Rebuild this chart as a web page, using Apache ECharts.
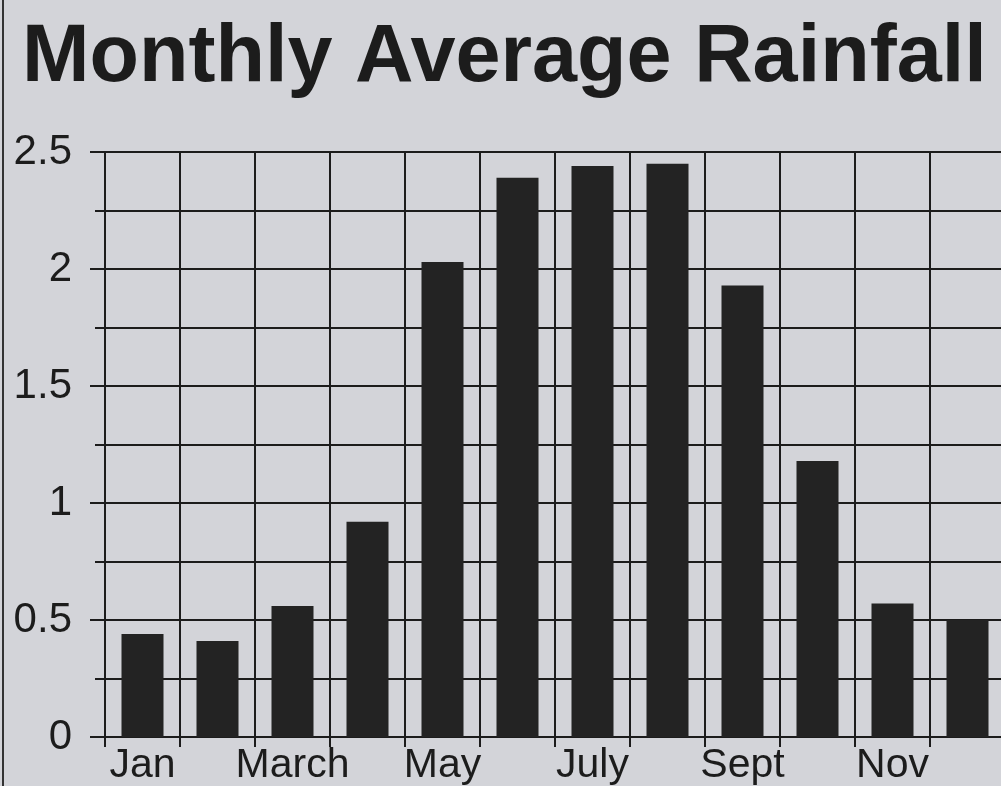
<!DOCTYPE html>
<html>
<head>
<meta charset="utf-8">
<title>Monthly Average Rainfall</title>
<script src="https://cdn.jsdelivr.net/npm/echarts@6/dist/echarts.min.js"></script>
<style>
	html, body { margin: 0; padding: 0; background: #d3d4d9; overflow: hidden; }
	#rainChart { width: 1005px; height: 786px; }
</style>
</head>
<body>
<div id="rainChart"></div>
<script>
// data
var months = ['Jan', 'Feb', 'March', 'April', 'May', 'June', 'July', 'Aug', 'Sept', 'Oct', 'Nov', 'Dec'];
var shownLabels = ['Jan', 'March', 'May', 'July', 'Sept', 'Nov'];
var rainfall = [0.44, 0.41, 0.56, 0.92, 2.03, 2.39, 2.44, 2.45, 1.93, 1.18, 0.57, 0.50];

// chart is a bit wider than the window so Dec gets cut like in the print
var rainChart = echarts.init(document.getElementById('rainChart'));
var ink = '#1c1c1c';
var opt = {
	backgroundColor: '#d3d4d9',
	animation: false,
	textStyle: { fontFamily: 'Liberation Sans' },
	title: {
		text: 'Monthly Average Rainfall',
		left: 17,
		top: 13,
		textStyle: { fontSize: 81, fontWeight: 'bold', color: ink, fontFamily: 'Liberation Sans' }
	},
	graphic: [{
		type: 'line',
		shape: { x1: 3, y1: 0, x2: 3, y2: 786 },
		style: { stroke: '#333', lineWidth: 2 }
	}],
	grid: { left: 105, top: 152, right: 0, bottom: 41 },
	xAxis: {
		type: 'category',
		data: months,
		boundaryGap: true,
		axisLine: { lineStyle: { color: ink, width: 2 } },
		axisTick: { show: true, interval: 0, length: 10, lineStyle: { color: ink, width: 2 } },
		splitLine: { show: true, interval: 0, lineStyle: { color: ink, width: 2 } },
		axisLabel: {
			interval: 0,
			margin: 8,
			fontSize: 41,
			color: ink,
			formatter: function (v) { return shownLabels.indexOf(v) >= 0 ? v : ''; }
		}
	},
	yAxis: {
		type: 'value',
		min: 0,
		max: 2.5,
		interval: 0.5,
		axisLine: { show: true, lineStyle: { color: ink, width: 2 } },
		axisTick: { show: true, length: 15, lineStyle: { color: ink, width: 2 } },
		minorTick: { show: true, splitNumber: 2, length: 10, lineStyle: { color: ink, width: 2 } },
		splitLine: { show: true, lineStyle: { color: ink, width: 2 } },
		minorSplitLine: { show: true, lineStyle: { color: ink, width: 2 } },
		axisLabel: { margin: 33, fontSize: 42, color: ink }
	},
	series: [{
		name: 'Rainfall',
		type: 'bar',
		data: rainfall,
		barWidth: 42,
		itemStyle: { color: '#232323' }
	}]
};
rainChart.setOption(opt);
</script>
</body>
</html>
